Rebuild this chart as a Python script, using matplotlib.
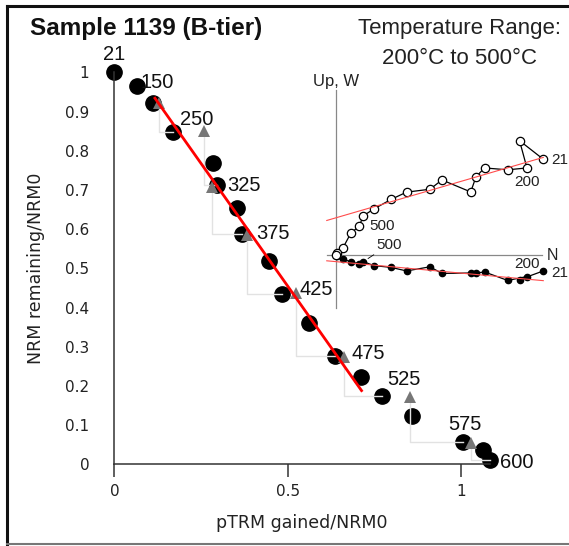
import numpy as np
import matplotlib.pyplot as plt
from matplotlib.lines import Line2D

# Arai plot data (heating steps, degC)
temps = [21, 150, 200, 250, 300, 325, 350, 375, 400, 425, 450, 475, 500, 525, 550, 575, 590, 600]
ptrm_gained = [0.0, 0.066, 0.112, 0.168, 0.285, 0.296, 0.353, 0.369, 0.446, 0.483,
               0.561, 0.636, 0.711, 0.771, 0.859, 1.006, 1.063, 1.083]
nrm_remaining = [1.0, 0.966, 0.923, 0.849, 0.768, 0.712, 0.655, 0.587, 0.519, 0.434,
                 0.360, 0.276, 0.223, 0.175, 0.124, 0.058, 0.036, 0.011]

# pTRM checks and the step each one links back to
check_ptrm = [0.129, 0.259, 0.281, 0.382, 0.524, 0.663, 0.853, 1.030]
check_nrm = [0.922, 0.850, 0.708, 0.585, 0.437, 0.274, 0.172, 0.055]
check_step = [250, 325, 375, 425, 475, 525, 575, 600]

# best fit 200-500 degC
fit_ptrm = [0.117, 0.713]
fit_nrm = [0.934, 0.188]

labeled_temps = [21, 150, 250, 325, 375, 425, 475, 525, 575, 600]

# Zijderveld inset (arbitrary units, NRM0 north = 1)
zij_north = [1.000, 0.885, 0.921, 0.828, 0.716, 0.675, 0.649, 0.510, 0.452, 0.339,
             0.264, 0.180, 0.130, 0.110, 0.069, 0.030, 0.004, 0.0]
zij_up = [0.463, 0.553, 0.421, 0.412, 0.421, 0.379, 0.305, 0.363, 0.318, 0.304,
          0.269, 0.222, 0.190, 0.140, 0.105, 0.032, 0.008, 0.0]
zij_east = [-0.077, -0.119, -0.104, -0.123, -0.082, -0.087, -0.087, -0.089, -0.057, -0.077,
            -0.060, -0.051, -0.032, -0.042, -0.034, -0.017, -0.004, 0.0]
zij_fit_north = [-0.047, 1.0]
zij_fit_up = [0.167, 0.472]
zij_fit_east = [-0.028, -0.124]

fig = plt.figure(figsize=(5.69, 5.46), dpi=100)
ax = fig.add_axes([0.1706, 0.1353, 0.7919, 0.7681])
ax.set_xlim(-0.05, 1.25)
ax.set_ylim(-0.02, 1.05)

ax.plot(ptrm_gained, nrm_remaining, 'o', color='black', ms=11, zorder=2, clip_on=False)

for cx, cy, step in zip(check_ptrm, check_nrm, check_step):
    j = temps.index(step)
    ax.plot([cx, cx, ptrm_gained[j]], [cy, nrm_remaining[j], nrm_remaining[j]],
            color='#e2e2e2', lw=1.0, zorder=3)
ax.plot(check_ptrm, check_nrm, '^', color='#777777', ms=9, mew=0, zorder=4)
ax.plot(fit_ptrm, fit_nrm, color='red', lw=2, zorder=5)

# step labels: offsets in points
label_pos = {21: (0, 13, 'center'), 150: (2, 2, 'left'), 250: (5, 8.5, 'left'),
             325: (7, 0, 'left'), 375: (10, 0.5, 'left'), 425: (13, 3.5, 'left'),
             475: (12, 2, 'left'), 525: (4, 11.5, 'left'), 575: (1.5, 12.5, 'center'),
             600: (7, -1.5, 'left')}
for t in labeled_temps:
    i = temps.index(t)
    dx, dy, ha = label_pos[t]
    ax.annotate(str(t), (ptrm_gained[i], nrm_remaining[i]), xytext=(dx, dy),
                textcoords='offset points', ha=ha, va='center', fontsize=14.5,
                family='Liberation Sans', color='#111111', zorder=6)

for s in ['top', 'right']:
    ax.spines[s].set_visible(False)
ax.spines['left'].set_position(('data', 0))
ax.spines['left'].set_bounds(0, 1)
ax.spines['bottom'].set_position(('data', 0))
ax.spines['bottom'].set_bounds(0, ptrm_gained[-1])
for s in ['left', 'bottom']:
    ax.spines[s].set_linewidth(1.1)
    ax.spines[s].set_color('#333333')

yt = np.round(np.arange(0, 1.01, 0.1), 1)
ax.set_yticks(yt)
ax.set_yticklabels(['0' if v == 0 else ('1' if v == 1 else f'{v:.1f}') for v in yt])
ax.set_xticks([0, 0.5, 1])
ax.set_xticklabels(['0', '0.5', '1'])
ax.tick_params(axis='y', length=0, pad=18, labelsize=11, labelcolor='#222222')
ax.tick_params(axis='x', length=9.5, width=1.1, color='#333333', pad=5,
               labelsize=11, labelcolor='#222222')

ax.set_xlabel('pTRM gained/NRM0', fontsize=12.5, color='#222222')
ax.xaxis.set_label_coords(0.455, -0.100)
ax.set_ylabel('NRM remaining/NRM0', fontsize=12.5, color='#222222')
ax.yaxis.set_label_coords(-0.1156, 0.487)

# Zijderveld inset
axz = fig.add_axes([0.5272, 0.4139, 0.4728, 0.4579])
axz.set_xlim(-0.1765, 1.1243)
axz.set_ylim(-0.3143, 0.8946)
axz.axis('off')
axz.patch.set_alpha(0)

axz.plot([0, 0], [-0.256, 0.80], color='#888888', lw=0.9)
axz.plot([-0.047, 0.992], [0, 0], color='#888888', lw=0.9)
axz.plot(zij_north, zij_east, '-o', color='black', ms=4.5, lw=0.9, zorder=3)
axz.plot(zij_north, zij_up, '-o', color='black', mfc='white', mec='black',
         ms=6, mew=0.9, lw=0.9, zorder=3)
axz.plot(zij_fit_north, zij_fit_up, color='#ff4c4c', lw=0.8, zorder=4)
axz.plot(zij_fit_north, zij_fit_east, color='#ff4c4c', lw=0.8, zorder=4)

zfont = dict(fontsize=11, family='Liberation Sans', color='#222222')
i21, i200, i500 = temps.index(21), temps.index(200), temps.index(500)
axz.annotate('21', (zij_north[i21], zij_up[i21]), xytext=(6, -0.5),
             textcoords='offset points', ha='left', va='center', **zfont)
axz.annotate('200', (zij_north[i200], zij_up[i200]), xytext=(0, -10),
             textcoords='offset points', ha='center', va='center', **zfont)
axz.annotate('500', (zij_north[i500], zij_up[i500]), xytext=(4, -7.5),
             textcoords='offset points', ha='left', va='center', **zfont)
axz.annotate('21', (zij_north[i21], zij_east[i21]), xytext=(6, -1.5),
             textcoords='offset points', ha='left', va='center', **zfont)
axz.annotate('200', (zij_north[i200], zij_east[i200]), xytext=(0, 9),
             textcoords='offset points', ha='center', va='center', **zfont)
axz.annotate('500', (zij_north[i500], zij_east[i500]), xytext=(9, 12),
             textcoords='offset points', ha='left', va='center',
             arrowprops=dict(arrowstyle='-', lw=0.6, color='black', shrinkA=0, shrinkB=4),
             **zfont)
axz.text(0, 0.837, 'Up, W', ha='center', va='center', fontsize=12,
         family='Liberation Sans', color='#222222')
axz.text(1.018, 0.0, 'N', ha='left', va='center', fontsize=11.5,
         family='Liberation Sans', color='#222222')

# titles
fig.text(0.2566, 0.9487, 'Sample 1139 (B-tier)', ha='center', va='center',
         fontsize=17.5, fontweight='bold', family='Liberation Sans', color='#111111')
fig.text(0.808, 0.948, 'Temperature Range:', ha='center', va='center',
         fontsize=16, family='Liberation Sans', color='#222222')
fig.text(0.807, 0.893, '200°C to 500°C', ha='center', va='center',
         fontsize=16, family='Liberation Sans', color='#222222')

# outer frame
fig.add_artist(Line2D([0.0123, 0.0123], [0.002, 0.989], transform=fig.transFigure,
                      color='#111111', lw=2.2))
fig.add_artist(Line2D([0.0123, 1.0], [0.989, 0.989], transform=fig.transFigure,
                      color='#111111', lw=2.2))
fig.add_artist(Line2D([0.0123, 1.0], [0.003, 0.003], transform=fig.transFigure,
                      color='#777777', lw=1.5))

plt.savefig('out.png', dpi=100)
